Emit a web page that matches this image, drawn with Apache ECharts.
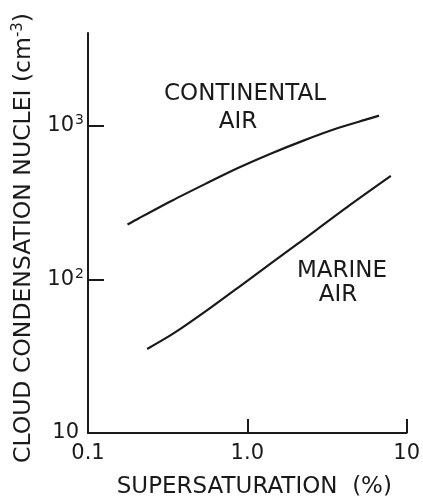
<!DOCTYPE html>
<html>
<head>
<meta charset="utf-8">
<script src="https://cdn.jsdelivr.net/npm/echarts@6/dist/echarts.min.js"></script>
<style>
  html, body { margin: 0; padding: 0; background: #fff; }
  #chart { width: 423px; height: 504px; }
</style>
</head>
<body>
<div id="chart"></div>
<script>
// Supersaturation (%) and CCN (cm^-3)
const supersatContinental = [0.177, 0.210, 0.336, 0.546, 0.873, 1.40, 2.27, 3.63, 5.82, 6.71];
const ccnContinental      = [227, 250.5, 324.6, 417.5, 529, 655.7, 801, 956, 1109, 1160];
const supersatMarine      = [0.235, 0.346, 0.569, 1.0, 2.054, 4.19, 7.96];
const ccnMarine           = [35.2, 44.6, 63.7, 97.8, 169.2, 292.6, 470];

const xTickLabels = [0.1, 1, 10];
const xTickMarks = [1, 10];
const yTickLabels = [10, 100, 1000];
const yTickMarks = [100, 1000];

const FONT = '"DejaVu Sans", "Liberation Sans", sans-serif';
const INK = '#1a1a1a';

const chart = echarts.init(document.getElementById('chart'), null, { renderer: 'canvas' });

function pairs(xs, ys) { return xs.map((x, i) => [x, ys[i]]); }

chart.setOption({
  backgroundColor: '#ffffff',
  animation: false,
  grid: { left: 88, right: 12, top: 28, bottom: 71, containLabel: false },
  xAxis: {
    type: 'log', logBase: 10, min: 0.1, max: 10,
    name: 'SUPERSATURATION  (%)',
    nameLocation: 'middle', nameGap: 43,
    nameTextStyle: { fontFamily: FONT, fontSize: 23, color: INK, padding: [0, 0, 0, 14] },
    axisLine: { lineStyle: { color: INK, width: 2 } },
    axisTick: { show: true, inside: true, length: 14, customValues: xTickMarks, lineStyle: { color: INK, width: 2 } },
    axisLabel: {
      customValues: xTickLabels, margin: 10,
      fontFamily: FONT, fontSize: 21, color: INK,
      formatter: v => (Math.abs(v - 1) < 1e-9 ? '1.0' : (Math.abs(v - 10) < 1e-9 ? '10' : '0.1'))
    },
    splitLine: { show: false }, minorTick: { show: false }
  },
  yAxis: {
    type: 'log', logBase: 10, min: 10, max: 4000,
    name: 'CLOUD CONDENSATION NUCLEI (cm{sup|-3})',
    nameLocation: 'middle', nameGap: 50,
    nameTextStyle: {
      fontFamily: FONT, fontSize: 23.5, color: INK, lineHeight: 26, padding: [0, 10, 0, 0],
      rich: { sup: { fontFamily: FONT, fontSize: 15, color: INK, verticalAlign: 'top', lineHeight: 26, padding: [0, 0, 10, 0] } }
    },
    axisLine: { lineStyle: { color: INK, width: 2 } },
    axisTick: { show: true, inside: true, length: 16, customValues: yTickMarks, lineStyle: { color: INK, width: 2 } },
    axisLabel: {
      customValues: yTickLabels, margin: 4,
      fontFamily: FONT, fontSize: 21, color: INK,
      formatter: v => {
        if (v >= 999) return '{b|10}{s|3}';
        if (v >= 99) return '{b|10}{s|2}';
        return '{b|10}{sp| }';
      },
      rich: {
        b: { fontFamily: FONT, fontSize: 21, color: INK, lineHeight: 24 },
        s: { fontFamily: FONT, fontSize: 14, color: INK, verticalAlign: 'top', lineHeight: 24, padding: [0, 0, 12, 1] },
        sp: { fontSize: 14, width: 5, lineHeight: 24 }
      }
    },
    splitLine: { show: false }, minorTick: { show: false }
  },
  graphic: [
    { type: 'text', x: 245, y: 94, style: { text: 'CONTINENTAL', font: '23px ' + FONT, fill: INK, textAlign: 'center', textVerticalAlign: 'middle' } },
    { type: 'text', x: 238, y: 122, style: { text: 'AIR', font: '23px ' + FONT, fill: INK, textAlign: 'center', textVerticalAlign: 'middle' } },
    { type: 'text', x: 342, y: 271, style: { text: 'MARINE', font: '23px ' + FONT, fill: INK, textAlign: 'center', textVerticalAlign: 'middle' } },
    { type: 'text', x: 338, y: 295, style: { text: 'AIR', font: '23px ' + FONT, fill: INK, textAlign: 'center', textVerticalAlign: 'middle' } }
  ],
  series: [
    {
      name: 'Continental air', type: 'line', smooth: 0.3, showSymbol: false,
      data: pairs(supersatContinental, ccnContinental),
      lineStyle: { color: INK, width: 2.2 }
    },
    {
      name: 'Marine air', type: 'line', smooth: 0.3, showSymbol: false,
      data: pairs(supersatMarine, ccnMarine),
      lineStyle: { color: INK, width: 2.2 }
    }
  ]
});
</script>
</body>
</html>
